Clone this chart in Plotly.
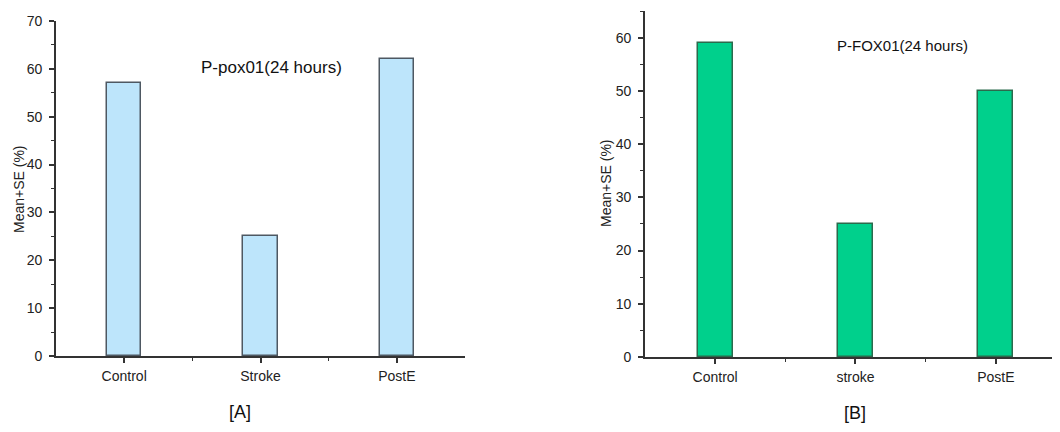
import plotly.graph_objects as go

# ---- data ----
categories_a = ["Control", "Stroke", "PostE"]
values_a = [57, 25, 62]
title_a = "P-pox01(24 hours)"

categories_b = ["Control", "stroke", "PostE"]
values_b = [59, 25, 50]
title_b = "P-FOX01(24 hours)"

y_label = "Mean+SE (%)"
panel_labels = ["[A]", "[B]"]

# page body has an 8px margin, so the figure is drawn 8px smaller and
# all target screen positions are shifted by 8px
OFF = 8
W, H = 1060 - OFF, 432 - OFF
FONT = "Liberation Sans, Arial, sans-serif"
AXIS_COLOR = "#333333"

fig = go.Figure()

pos_a = list(range(len(categories_a)))
pos_b = list(range(len(categories_b)))

fig.add_trace(go.Bar(
    x=pos_a, y=values_a, width=0.25,
    marker=dict(color="#BDE5FB", line=dict(color="#4e5862", width=1.5)),
    xaxis="x", yaxis="y", showlegend=False, hoverinfo="x+y",
))
fig.add_trace(go.Bar(
    x=pos_b, y=values_b, width=0.25,
    marker=dict(color="#00D08C", line=dict(color="#2b6a4c", width=1.5)),
    xaxis="x2", yaxis="y2", showlegend=False, hoverinfo="x+y",
))

def px_x(p):
    return (p - OFF) / W

def px_y(p):
    return 1 - (p - OFF) / H

xcommon = dict(
    showline=True, linecolor=AXIS_COLOR, linewidth=1.6,
    ticks="outside", ticklen=5, tickwidth=1.6, tickcolor=AXIS_COLOR,
    showgrid=False, zeroline=False, automargin=False,
    tickfont=dict(family=FONT, size=14, color="#222222"),
    tickmode="array", ticklabelstandoff=1,
)
ycommon = dict(
    showline=True, linecolor=AXIS_COLOR, linewidth=1.6,
    ticks="outside", ticklen=5, tickwidth=1.6, tickcolor=AXIS_COLOR,
    showgrid=False, zeroline=False, automargin=False,
    tickfont=dict(family=FONT, size=14, color="#222222"),
    dtick=10, tick0=0, ticklabelstandoff=4,
    minor=dict(ticks="outside", ticklen=3, tickwidth=1.3, tickcolor=AXIS_COLOR, dtick=5, showgrid=False),
)

xminor = dict(ticks="outside", ticklen=3, tickwidth=1.3, tickcolor=AXIS_COLOR,
              tickmode="array", tickvals=[0.5, 1.5], showgrid=False)

fig.update_layout(
    width=W, height=H,
    margin=dict(l=0, r=0, t=0, b=0, pad=0, autoexpand=False),
    paper_bgcolor="white", plot_bgcolor="white",
    bargap=0,
    xaxis=dict(
        **xcommon,
        domain=[px_x(56), px_x(465)],
        range=[-0.5, 2.5],
        tickvals=pos_a, ticktext=categories_a,
        minor=xminor,
        anchor="y",
    ),
    yaxis=dict(
        **ycommon,
        domain=[px_y(356), px_y(21)],
        range=[0, 70],
        anchor="x",
    ),
    xaxis2=dict(
        **xcommon,
        domain=[px_x(645), 1.0],
        range=[-0.5, 2.5 - (1066 - 1060) / 141.0],
        tickvals=pos_b, ticktext=categories_b,
        minor=xminor,
        anchor="y2",
    ),
    yaxis2=dict(
        **ycommon,
        domain=[px_y(357), px_y(11)],
        range=[0, 65],
        anchor="x2",
    ),
)

annos = [
    dict(text=title_a, x=px_x(271), y=px_y(68), size=17),
    dict(text=title_b, x=px_x(902), y=px_y(45), size=15),
    dict(text=panel_labels[0], x=px_x(240), y=px_y(412), size=18),
    dict(text=panel_labels[1], x=px_x(855), y=px_y(413), size=18),
]
for a in annos:
    fig.add_annotation(
        text=a["text"], x=a["x"], y=a["y"], xref="paper", yref="paper",
        showarrow=False, xanchor="center", yanchor="middle",
        font=dict(family=FONT, size=a["size"], color="#111111"),
    )

for xpos, ypos in [(19, 189), (606, 183)]:
    fig.add_annotation(
        text=y_label, x=px_x(xpos), y=px_y(ypos), xref="paper", yref="paper",
        showarrow=False, xanchor="center", yanchor="middle", textangle=-90,
        font=dict(family=FONT, size=14, color="#222222"),
    )

fig.write_html("out.html")
